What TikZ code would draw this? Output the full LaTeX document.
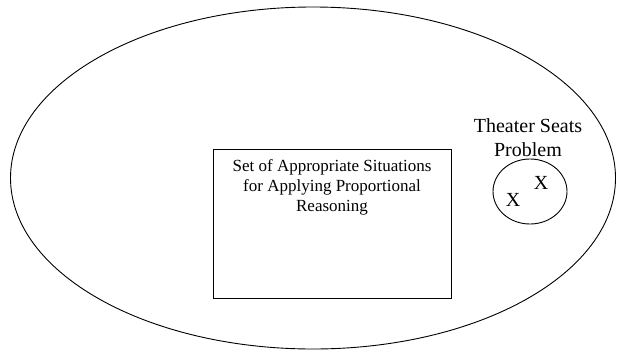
\documentclass[tikz,border=0pt]{standalone}
\usepackage{fontspec}
\setmainfont{Liberation Serif}
\usetikzlibrary{shapes.geometric}
\begin{document}
\begin{tikzpicture}[x=1pt, y=-1pt, line width=0.9pt,
  region/.style={draw, ellipse, inner sep=0pt},
  setbox/.style={draw, rectangle, inner sep=0pt},
  boxlabel/.style={font=\fontsize{17}{20}\selectfont, align=center, inner sep=0pt},
  biglabel/.style={font=\fontsize{20}{24}\selectfont, align=center, inner sep=0pt}]
\useasboundingbox (0,0) rectangle (617,351);
% universe of all situations
\node[region, minimum width=605pt, minimum height=342pt] (universe) at (313,178) {};
% set of appropriate situations
\node[setbox, minimum width=238pt, minimum height=149pt] (situations) at (332,223.5) {};
\node[boxlabel, anchor=north] (situationslabel) at (332,159)
  {Set of Appropriate Situations\\for Applying Proportional\\Reasoning};
% theater seats problem
\node[region, minimum width=74pt, minimum height=65pt] (theater) at (530,191.5) {};
\node[biglabel] (theaterlabel) at (528,138) {Theater Seats\\Problem};
\node[biglabel] (xa) at (513,200) {X};
\node[biglabel] (xb) at (541,183) {X};
\end{tikzpicture}
\end{document}
